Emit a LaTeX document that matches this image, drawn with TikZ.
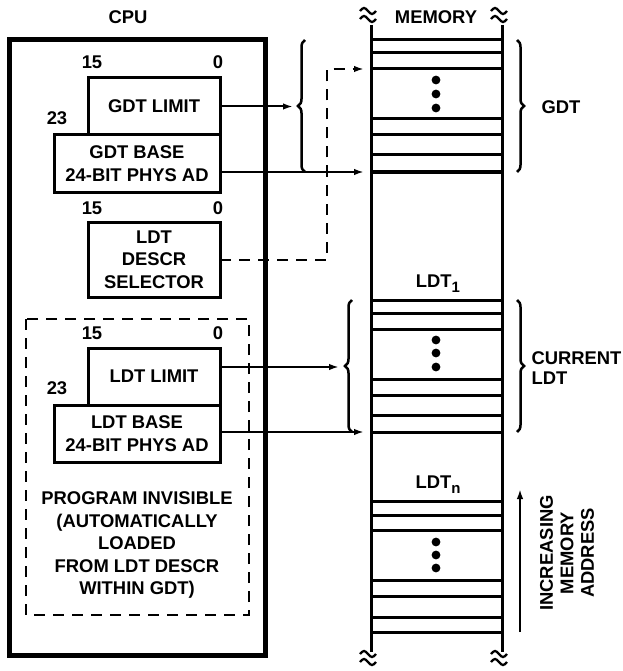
\documentclass[tikz,border=0pt]{standalone}
\usepackage{fontspec}
\setmainfont{Liberation Sans}
\usetikzlibrary{arrows.meta,decorations.pathreplacing}

\newcommand\lowsub[1]{\raisebox{-5pt}{\fontsize{15}{15}\selectfont #1}}

\tikzset{
  reg/.style={draw,line width=3pt,outer sep=0pt,inner sep=0pt,align=center,
    minimum width=132pt,minimum height=57pt},
  widereg/.style={reg,minimum width=166pt},
  arr/.style={line width=2pt,-{Latex[length=10pt,width=6.5pt]}},
  dsh/.style={line width=2.5pt,dash pattern=on 11pt off 8pt},
  memline/.style={line width=3pt},
  brc/.style={line width=2.5pt,decorate,decoration={brace,amplitude=7pt}},
  brk/.pic={
    \draw[line width=2.3pt] (-8,-4) sin (-4,-7) cos (0,-4) sin (4,-1) cos (8,-4)
      (-8,4) sin (-4,1) cos (0,4) sin (4,7) cos (8,4);
  }
}

\begin{document}
\begin{tikzpicture}[x=1pt,y=-1pt,
    every node/.style={font=\bfseries\fontsize{18.4}{22.5}\selectfont}]
  \useasboundingbox (0,0) rectangle (622,671);

  % cpu side
  \node (cpu) at (128,17) {CPU};
  \draw[line width=5pt] (9.5,40) rectangle (265,655);

  \node at (92,62) {15};
  \node at (218,62) {0};
  \node at (57,118) {23};
  \node[reg] (gdtlim) at (154,106.5) {GDT LIMIT};
  \node[widereg] (gdtbase) at (137,163.5) {GDT BASE\\24-BIT PHYS AD};

  \node at (92,208) {15};
  \node at (218,208) {0};
  \node[reg,minimum height=75pt] (ldtsel) at (154,259.5) {LDT\\DESCR\\SELECTOR};

  \draw[dsh] (26,319) rectangle (249,615);
  \node at (92,333) {15};
  \node at (218,333) {0};
  \node at (57,388) {23};
  \node[reg] (ldtlim) at (154,376.5) {LDT LIMIT};
  \node[widereg] (ldtbase) at (137,433.5) {LDT BASE\\24-BIT PHYS AD};
  \node[align=center] (invis) at (137,545) {PROGRAM INVISIBLE\\(AUTOMATICALLY\\LOADED\\FROM LDT DESCR\\WITHIN GDT)};

  % memory side
  \coordinate (mtl) at (371,25);
  \coordinate (mbl) at (371,652);
  \coordinate (mtr) at (502,25);
  \coordinate (mbr) at (502,652);
  \draw[memline] (mtl) -- (mbl);
  \draw[memline] (mtr) -- (mbr);
  \pic at (368,15) {brk};
  \pic at (499,15) {brk};
  \pic at (368,658) {brk};
  \pic at (499,658) {brk};
  \node (mem) at (436,17) {MEMORY};

  \foreach \y in {40,53,69,119,135,155,172,300,313,329,379,395,415,432,501,515,530,580,596,617,632}
    \draw[memline] (371,\y) -- (502,\y);
  \foreach \y in {80,94,108,340,353,367,542,555,568}
    \fill (436,\y) circle (4.4);

  \node (ldt1) at (438,284) {LDT\lowsub{1}};
  \node (ldtn) at (438,485) {LDT\lowsub{n}};

  % braces
  \draw[brc] (305,172) -- (305,40);
  \draw[brc] (517,40) -- (517,172);
  \draw[brc] (352,432) -- (352,300);
  \draw[brc] (517,300) -- (517,432);
  \node[anchor=west] (gdt) at (538,107) {GDT};
  \node[anchor=west,align=left,font=\bfseries\fontsize{18.4}{20.5}\selectfont] (cur) at (528,368) {CURRENT\\LDT};

  % connectors
  \coordinate (gdtin) at (293,106.5);
  \coordinate (gdtend) at (364,172);
  \coordinate (selturn) at (327,69);
  \coordinate (selend) at (364,69);
  \coordinate (ldtin) at (339,367);
  \coordinate (ldtend) at (364,432);
  \draw[arr] (gdtlim.east) -- (gdtin);
  \draw[arr] (gdtend -| gdtbase.east) -- (gdtend);
  \draw[dsh,arr] (ldtsel.east) -| (selturn) -- (selend);
  \draw[arr] (ldtin -| ldtlim.east) -- (ldtin);
  \draw[arr] (ldtend -| ldtbase.east) -- (ldtend);

  % address direction
  \coordinate (incbot) at (520,632);
  \coordinate (inctop) at (520,489);
  \draw[arr] (incbot) -- (inctop);
  \node[rotate=90,align=center,font=\bfseries\fontsize{18.4}{20.5}\selectfont] (incr) at (567,553) {INCREASING\\MEMORY\\ADDRESS};
\end{tikzpicture}
\end{document}
